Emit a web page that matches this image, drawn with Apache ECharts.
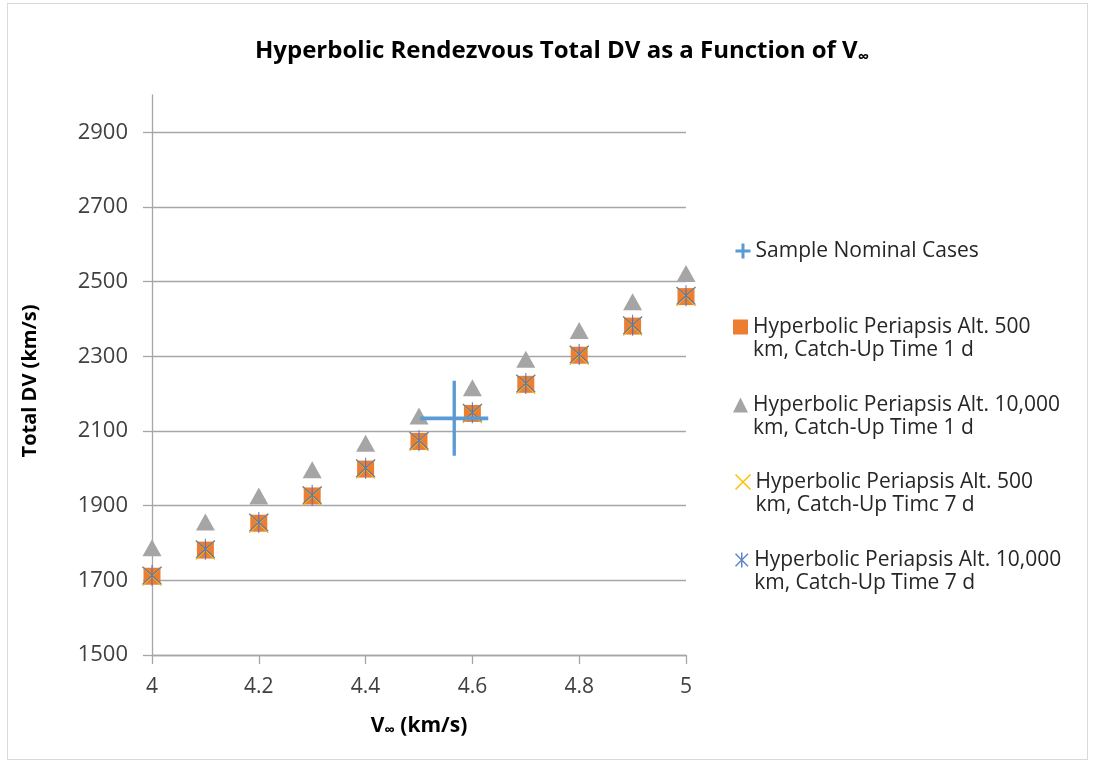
<!DOCTYPE html>
<html>
<head>
<meta charset="utf-8">
<script src="https://cdn.jsdelivr.net/npm/echarts@6/dist/echarts.min.js"></script>
<style>
  html, body { margin: 0; padding: 0; background: #fff; }
  #frame { position: absolute; left: 7px; top: 3px; width: 1081px; height: 757px; border: 1px solid #d9d9d9; box-sizing: border-box; }
  #chart { position: absolute; left: 0; top: 0; width: 1093px; height: 766px; }
</style>
</head>
<body>
<div id="frame"></div>
<div id="chart"></div>
<script>
// V-infinity (km/s)
const vInf = [4.0, 4.1, 4.2, 4.3, 4.4, 4.5, 4.6, 4.7, 4.8, 4.9, 5.0]
// total DV per case
const alt500Day1 = [1711, 1781, 1853, 1926, 1998, 2072, 2147, 2225, 2303, 2381, 2460]
const alt10kDay1 = [1787, 1856, 1926, 1996, 2067, 2140, 2216, 2292, 2369, 2446, 2522]
const alt500Day7 = [1711, 1781, 1853, 1926, 1998, 2072, 2147, 2225, 2303, 2381, 2460]
const alt10kDay7 = [1713, 1783, 1855, 1928, 2000, 2074, 2149, 2227, 2305, 2383, 2462]
const nominal = [[4.566, 2134]]

const names = [
  'Sample Nominal Cases',
  'Hyperbolic Periapsis Alt. 500\nkm, Catch-Up Time 1 d',
  'Hyperbolic Periapsis Alt. 10,000\nkm, Catch-Up Time 1 d',
  'Hyperbolic Periapsis Alt. 500\nkm, Catch-Up Timc 7 d',
  'Hyperbolic Periapsis Alt. 10,000\nkm, Catch-Up Time 7 d'
]

const FONT = 'Open Sans'
const plusPath = 'path://M5,0L5,10M0,5L10,5'
const xPath = 'path://M0,0L10,10M10,0L0,10'
const starPath = 'path://M0,0L10,10M10,0L0,10M5,-1L5,11'

const pairs = (ys) => vInf.map((x, i) => [x, ys[i]])

const LH = 23
const legendTops = [251, 327, 405, 482, 560]
const legendIcons = [
  { icon: plusPath, itemStyle: { color: 'none', borderColor: '#5b9bd5', borderWidth: 3 } },
  { icon: 'rect', itemStyle: { color: '#ed7d31', borderWidth: 0 } },
  { icon: 'triangle', itemStyle: { color: '#a5a5a5', borderWidth: 0 } },
  { icon: xPath, itemStyle: { color: 'none', borderColor: '#ffc000', borderWidth: 1.5 } },
  { icon: starPath, itemStyle: { color: 'none', borderColor: '#4472c4', borderWidth: 1.5 } }
]

// two-line names get a blank first line so the icon sits on the first text line
const legends = names.map((n, i) => ({
  left: 733,
  top: i === 0 ? legendTops[i] - LH / 2 : legendTops[i] - LH * 1.5,
  orient: 'vertical',
  itemWidth: 15,
  itemHeight: 15,
  itemGap: 0,
  padding: 0,
  selectedMode: false,
  formatter: (name) => (name.indexOf('\n') >= 0 ? ' \n' + name : name),
  data: [Object.assign({ name: n }, legendIcons[i])],
  textStyle: {
    fontFamily: FONT,
    fontSize: 21,
    color: '#262626',
    lineHeight: LH
  }
}))

const chart = echarts.init(document.getElementById('chart'))
chart.setOption({
  animation: false,
  title: {
    text: 'Hyperbolic Rendezvous Total DV as a Function of V{sub|∞}',
    left: 557,
    textAlign: 'center',
    top: 33,
    textStyle: {
      fontFamily: FONT,
      fontSize: 24,
      fontWeight: 'bold',
      color: '#000',
      rich: {
        sub: { fontFamily: FONT, fontSize: 16, fontWeight: 'bold', color: '#000', verticalAlign: 'bottom', padding: [11, 0, 0, 0] }
      }
    }
  },
  legend: legends,
  grid: {
    left: 152,
    right: 407,
    top: 95,
    bottom: 111,
    containLabel: false
  },
  xAxis: {
    type: 'value',
    min: 4,
    max: 5,
    interval: 0.2,
    name: 'V{sub|∞} (km/s)',
    nameLocation: 'middle',
    nameGap: 60,
    nameTextStyle: {
      fontFamily: FONT, fontSize: 21, fontWeight: 'bold', color: '#000',
      rich: { sub: { fontFamily: FONT, fontSize: 15, fontWeight: 'bold', color: '#000', padding: [8, 0, 0, 0] } }
    },
    axisLine: { show: true, lineStyle: { color: '#a6a6a6', width: 1.3 } },
    axisTick: { show: true, inside: false, length: 9, lineStyle: { color: '#a6a6a6', width: 1.3 } },
    axisLabel: { fontFamily: FONT, fontSize: 21, color: '#404040', margin: 22 },
    splitLine: { show: false }
  },
  yAxis: {
    type: 'value',
    min: 1500,
    max: 3000,
    interval: 200,
    name: 'Total DV (km/s)',
    nameLocation: 'middle',
    nameGap: 112,
    nameTextStyle: { fontFamily: FONT, fontSize: 20, fontWeight: 'bold', color: '#000', padding: [0, 12, 0, 0] },
    axisLine: { show: true, lineStyle: { color: '#a6a6a6', width: 1.3 } },
    axisTick: { show: true, inside: false, length: 9, lineStyle: { color: '#a6a6a6', width: 1.3 } },
    axisLabel: {
      fontFamily: FONT, fontSize: 22, color: '#404040', margin: 24,
      showMaxLabel: false,
      formatter: (v) => String(v)
    },
    splitLine: { show: true, showMaxLine: false, lineStyle: { color: '#a6a6a6', width: 1.3 } }
  },
  series: [
    {
      name: names[1],
      type: 'scatter',
      symbol: 'rect',
      symbolSize: 17,
      itemStyle: { color: '#ed7d31', opacity: 1 },
      data: pairs(alt500Day1)
    },
    {
      name: names[2],
      type: 'scatter',
      symbol: 'triangle',
      symbolSize: [19, 17],
      itemStyle: { color: '#a5a5a5', opacity: 1 },
      data: pairs(alt10kDay1)
    },
    {
      name: names[3],
      type: 'scatter',
      symbol: xPath,
      symbolSize: 19,
      itemStyle: { color: 'none', borderColor: '#ffc000', borderWidth: 1.2, opacity: 1 },
      data: pairs(alt500Day7)
    },
    {
      name: names[4],
      type: 'scatter',
      symbol: starPath,
      symbolSize: [19, 21],
      itemStyle: { color: 'none', borderColor: '#4472c4', borderWidth: 1.2, opacity: 0.85 },
      data: pairs(alt10kDay7)
    },
    {
      name: names[0],
      type: 'scatter',
      symbol: plusPath,
      symbolSize: [68, 75],
      itemStyle: { color: 'none', borderColor: '#5b9bd5', borderWidth: 3.5, opacity: 1 },
      z: 5,
      data: nominal
    }
  ]
})
</script>
</body>
</html>
